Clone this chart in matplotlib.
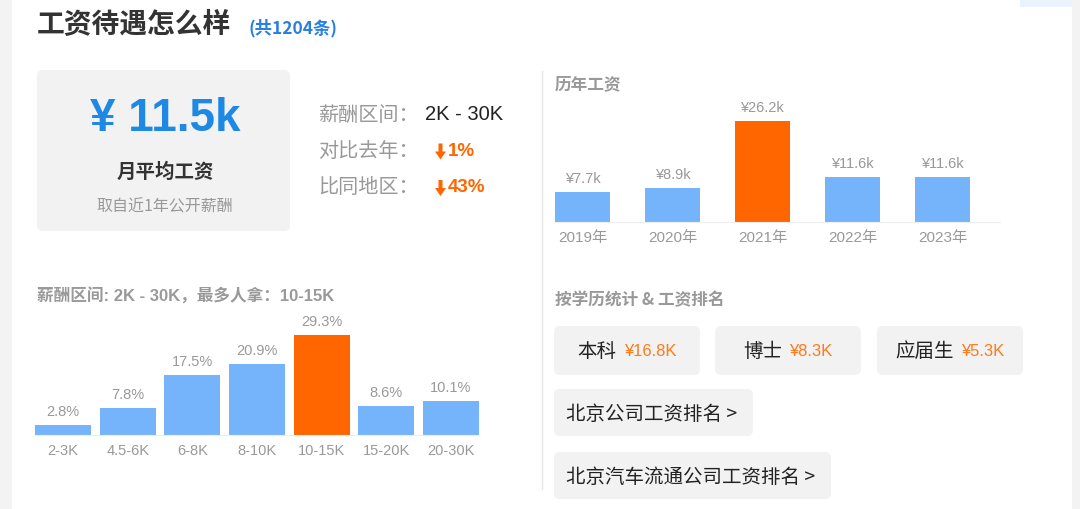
import matplotlib
matplotlib.use("Agg")
import matplotlib.pyplot as plt
from matplotlib.patches import FancyBboxPatch, Rectangle, Polygon

plt.rcParams['font.family'] = ['Noto Sans CJK SC', 'DejaVu Sans']
LATIN = ["Liberation Sans", "Noto Sans CJK SC"]

# ---- data ----
total_count = 1204
avg_salary = "11.5k"
salary_range = "2K - 30K"
vs_last_year = "1%"
vs_region = "43%"

dist_labels = ["2-3K", "4.5-6K", "6-8K", "8-10K", "10-15K", "15-20K", "20-30K"]
dist_values = [2.8, 7.8, 17.5, 20.9, 29.3, 8.6, 10.1]

year_labels = ["2019年", "2020年", "2021年", "2022年", "2023年"]
year_values = [7.7, 8.9, 26.2, 11.6, 11.6]

degree_labels = ["本科", "博士", "应届生"]
degree_values = ["16.8K", "8.3K", "5.3K"]

rank_links = ["北京公司工资排名", "北京汽车流通公司工资排名"]

BLUE = "#75b4fa"
ORANGE = "#ff6600"
GREY = "#999999"
LIGHT = "#f2f2f2"
W, H = 1080, 510

fig = plt.figure(figsize=(W / 100, H / 100), dpi=100)
fig.patch.set_facecolor("white")
renderer = fig.canvas.get_renderer()

# overlay axes in pixel units for the page layout
bg = fig.add_axes([0, 0, 1, 1])
bg.set_xlim(0, W)
bg.set_ylim(H, 0)
bg.axis("off")


def box(x, y, w, h, color=LIGHT, r=6):
    bg.add_patch(FancyBboxPatch((x, y), w, h, boxstyle="round,pad=0,rounding_size=%d" % r,
                                fc=color, ec="none", zorder=0))


def down_arrow(x, y):
    # small filled arrow, x = centre, y = top
    pts = [(x - 2, y), (x + 2, y), (x + 2, y + 8), (x + 5.5, y + 8),
           (x, y + 16), (x - 5.5, y + 8), (x - 2, y + 8)]
    bg.add_patch(Polygon(pts, closed=True, fc=ORANGE, ec="none"))


bg.add_patch(Rectangle((0, 0), 12, H, fc="#f3f3f3", ec="none"))
bg.add_patch(Rectangle((1072, 0), 8, H, fc="#f3f3f3", ec="none"))
bg.add_patch(Rectangle((1020, 0), 52, 8, fc="#eaf3fc", ec="none"))

# header
bg.text(37, 25, "工资待遇怎么样", fontsize=20, fontweight="bold", color="#333333", va="center")
bg.text(248, 28, "(共%d条)" % total_count, fontsize=12.5, fontweight="bold", color="#2a80e0",
        va="center")

# average salary card
box(37, 71, 253, 161)
bg.text(165, 119, "¥ " + avg_salary, fontsize=33, fontweight="bold", color="#1e88e5",
        ha="center", va="center", family=LATIN)
bg.text(165, 172, "月平均工资", fontsize=14, fontweight="bold", color="#333333", ha="center", va="center")
bg.text(165, 207, "取自近1年公开薪酬", fontsize=11.5, color=GREY, ha="center", va="center")

rows = [("薪酬区间：", salary_range, "#222222", False),
        ("对比去年：", vs_last_year, ORANGE, True),
        ("比同地区：", vs_region, ORANGE, True)]
for i, (k, v, c, arrow) in enumerate(rows):
    y = 115 + i * 36.5
    bg.text(318, y, k, fontsize=14.5, color=GREY, va="center")
    if arrow:
        down_arrow(440.5, y - 7)
        bg.text(448, y, v, fontsize=13.5, fontweight="bold", color=c, va="center", family=LATIN)
    else:
        bg.text(425, y, v, fontsize=14.5, color=c, va="center", family=LATIN)

# divider
bg.plot([542, 542], [72, 490], color="#e6e6e6", lw=1)

# section titles
bg.text(37, 296, "薪酬区间: %s，最多人拿：%s" % (salary_range, dist_labels[dist_values.index(max(dist_values))]),
        fontsize=12, fontweight="bold", color=GREY, va="center", family=LATIN)
bg.text(555, 84, "历年工资", fontsize=12, fontweight="bold", color=GREY, va="center")
bg.text(555, 300, "按学历统计 & 工资排名", fontsize=12, fontweight="bold", color=GREY, va="center")

# degree boxes: label + value centred together in each box
bx = [554, 715, 877]
gap = 7
for x0, lab, val in zip(bx, degree_labels, degree_values):
    box(x0, 327, 146, 49)
    t1 = bg.text(0, 352, lab, fontsize=14, color="#222222", va="center", ha="left")
    t2 = bg.text(0, 352, "¥" + val, fontsize=12, color="#ff7a1a", va="center", ha="left",
                 family=LATIN)
    w1 = t1.get_window_extent(renderer).width
    w2 = t2.get_window_extent(renderer).width
    start = x0 + 73 - (w1 + gap + w2) / 2
    t1.set_x(start)
    t2.set_x(start + w1 + gap)

# ranking links
link_w = [199, 277]
for i, (lab, lw_) in enumerate(zip(rank_links, link_w)):
    y0 = 390 + i * 63
    box(554, y0, lw_, 47)
    bg.text(566, y0 + 24, lab + " >", fontsize=14, color="#222222", va="center")


# ---- salary distribution bars ----
def bar_axes(left, base, right, top, x0, x1, ymax):
    ax = fig.add_axes([left / W, (H - base) / H, (right - left) / W, (base - top) / H])
    ax.set_xlim(x0, x1)
    ax.set_ylim(0, ymax)
    for s in ["top", "right", "left"]:
        ax.spines[s].set_visible(False)
    ax.spines["bottom"].set_color("#eeeeee")
    ax.set_yticks([])
    ax.tick_params(axis="x", length=0, pad=6, labelsize=10.5, labelcolor=GREY)
    ax.patch.set_alpha(0)
    return ax


ax1 = bar_axes(35, 436, 479, 323, -0.435, 6.435, 29.3 * 113 / 100)
imax = dist_values.index(max(dist_values))
cols = [ORANGE if i == imax else BLUE for i in range(len(dist_values))]
xs = list(range(len(dist_values)))
ax1.bar(xs, dist_values, width=0.87, color=cols)
ax1.set_xticks(xs)
ax1.set_xticklabels(dist_labels, family=LATIN)
for x, v in zip(xs, dist_values):
    ax1.annotate("%.1f%%" % v, (x, v), xytext=(0, 5), textcoords="offset points",
                 ha="center", va="bottom", fontsize=10.5, color=GREY, family=LATIN)

# ---- yearly salary bars ----
ax2 = bar_axes(555, 223, 1000, 100, -0.305, 4.64, 31.95)
ymax_i = year_values.index(max(year_values))
cols2 = [ORANGE if i == ymax_i else BLUE for i in range(len(year_values))]
xs2 = list(range(len(year_values)))
ax2.bar(xs2, year_values, width=0.61, color=cols2)
ax2.set_xticks(xs2)
ax2.set_xticklabels(year_labels, family=LATIN, fontsize=11)
for x, v in zip(xs2, year_values):
    ax2.annotate("¥%.1fk" % v, (x, v), xytext=(0, 5), textcoords="offset points",
                 ha="center", va="bottom", fontsize=10.5, color=GREY, family=LATIN)

fig.savefig("out.png", dpi=100)
